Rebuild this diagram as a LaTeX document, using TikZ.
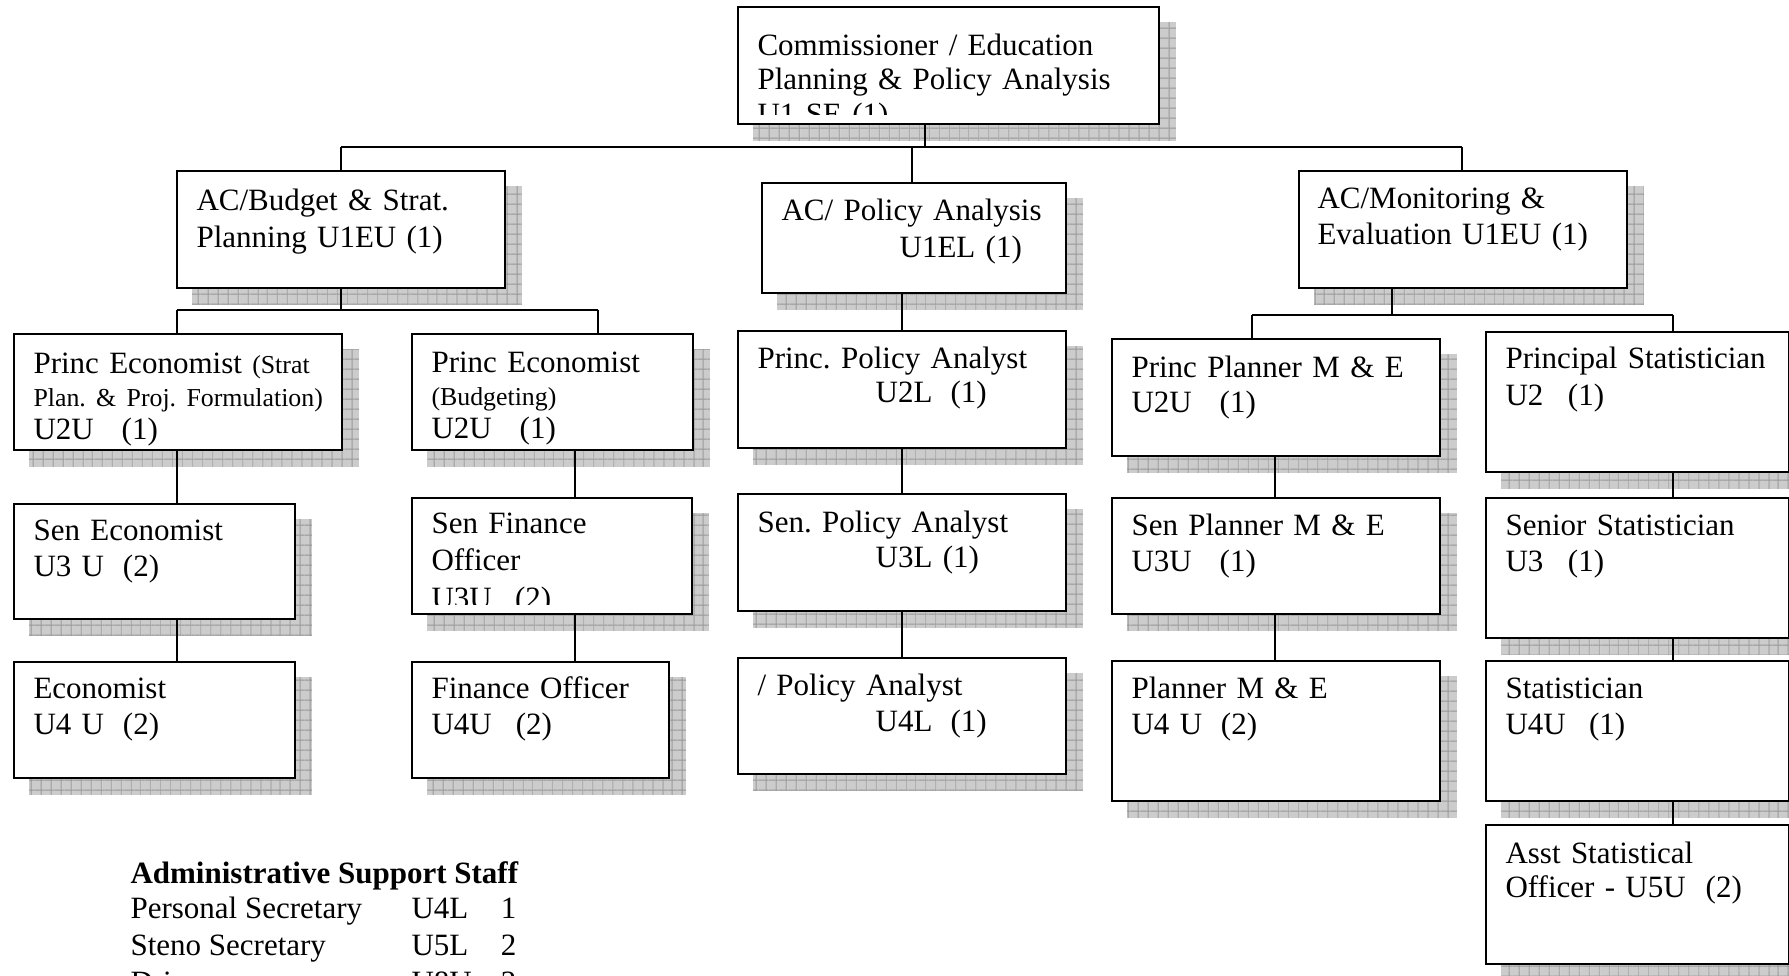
\documentclass[tikz,border=0pt]{standalone}
\usepackage{fontspec}
\setmainfont{Liberation Serif}
\usetikzlibrary{patterns.meta}
\frenchspacing
\definecolor{shbg}{RGB}{204,204,204}
\definecolor{shline}{RGB}{150,150,150}
\pgfdeclarelayer{shadow}
\pgfdeclarelayer{conn}
\pgfsetlayers{shadow,conn,main}
\newcommand\gp[1]{\hspace{#1pt}}
\newcommand\ind{\hspace*{45.7pt}}
\newcommand\smf{\fontsize{10}{12}\selectfont}
\tikzset{
  orgbox/.style={draw=black, line width=0.75pt, fill=white, anchor=north west, inner sep=0pt},
  boxshadow/.style={fill=shbg,
    postaction={pattern={Lines[angle=0,distance=4pt,line width=0.35pt]}, pattern color=shline},
    postaction={pattern={Lines[angle=90,distance=4pt,line width=0.35pt]}, pattern color=shline}},
  boxtxt/.style={anchor=base west, inner sep=0pt, align=left, text width=9cm,
    execute at begin node=\frenchspacing},
  conn/.style={draw=black, line width=0.55pt},
  plain/.style={anchor=base west, inner sep=0pt, font=\fontsize{12}{14}\selectfont},
}
\newcommand\orgbox[5]{%
  \pgfmathsetmacro\obw{(#4-#2)*0.387}%
  \pgfmathsetmacro\obh{(#5-#3)*0.387}%
  \node[orgbox, minimum width=\obw pt, minimum height=\obh pt] (#1) at (#2,#3) {};%
  \begin{pgfonlayer}{shadow}%
    \path[boxshadow] ([shift={(16,16)}]#1.north west) rectangle ([shift={(16,16)}]#1.south east);%
  \end{pgfonlayer}}
\newcommand\boxtext[5]{%
  \node[boxtxt, font=\fontsize{12}{#4}\selectfont] (#1) at (#2,#3) {#5};}

\begin{document}
\begin{tikzpicture}[x=0.387pt, y=-0.387pt]
\useasboundingbox (0,0) rectangle (1789,975);
\begin{pgfonlayer}{shadow}
  \fill[white] (0,0) rectangle (1789,975);
\end{pgfonlayer}

% ---- boxes ----
\orgbox{A}{737}{6}{1158}{123}
\orgbox{B1}{176}{170}{504}{287}
\orgbox{B2}{761}{182}{1065}{292}
\orgbox{B3}{1298}{170}{1626}{287}
\orgbox{C1}{13}{333}{341}{449}
\orgbox{C2}{411}{333}{692}{449}
\orgbox{D1}{13}{503}{294}{618}
\orgbox{D2}{411}{497}{691}{613}
\orgbox{E1}{13}{661}{294}{777}
\orgbox{E2}{411}{661}{668}{777}
\orgbox{F1}{737}{330}{1065}{447}
\orgbox{F2}{737}{493}{1065}{610}
\orgbox{F3}{737}{657}{1065}{773}
\orgbox{G1}{1111}{338}{1439}{455}
\orgbox{G2}{1111}{497}{1439}{613}
\orgbox{G3}{1111}{660}{1439}{800}
\orgbox{H1}{1485}{331}{1788}{471}
\orgbox{H2}{1485}{497}{1788}{637}
\orgbox{H3}{1485}{660}{1788}{800}
\orgbox{H4}{1485}{824}{1788}{963}

% ---- texts ----
\begin{scope}
  \clip (A.north west) rectangle ([shift={(0,-10)}]A.south east);
  \boxtext{tA}{757}{55}{13.5pt}{Commissioner / Education\\Planning \& Policy Analysis\\U1 SE (1)}
\end{scope}
\boxtext{tB1}{196}{210}{14.7pt}{AC/Budget \& Strat.\\Planning U1EU (1)}
\boxtext{tB2}{781}{220}{14.7pt}{AC/ Policy Analysis\\\ind U1EL (1)}
\boxtext{tB3}{1317}{208}{14.3pt}{AC/Monitoring \&\\Evaluation U1EU (1)}
\boxtext{tC1}{33}{373}{12.8pt}{Princ Economist {\smf (Strat}\\{\smf Plan. \& Proj. Formulation)}\\U2U\gp{10.8}(1)}
\boxtext{tC2}{431}{372}{12.8pt}{Princ Economist\\{\smf (Budgeting)}\\U2U\gp{10.8}(1)}
\boxtext{tD1}{33}{540}{14.3pt}{Sen Economist\\U3 U\gp{7.3}(2)}
\begin{scope}
  \clip (D2.north west) rectangle ([shift={(0,-10)}]D2.south east);
  \boxtext{tD2}{431}{533}{14.7pt}{Sen Finance\\Officer\\U3U\gp{9}(2)}
\end{scope}
\boxtext{tE1}{33}{698}{14.3pt}{Economist\\U4 U\gp{7.3}(2)}
\boxtext{tE2}{431}{698}{14.3pt}{Finance Officer\\U4U\gp{9.3}(2)}
\boxtext{tF1}{757}{368}{13.5pt}{Princ. Policy Analyst\\\ind U2L\gp{7}(1)}
\boxtext{tF2}{757}{532}{13.9pt}{Sen. Policy Analyst\\\ind U3L (1)}
\boxtext{tF3}{757}{695}{14.3pt}{/ Policy Analyst\\\ind U4L\gp{7}(1)}
\boxtext{tG1}{1131}{377}{13.9pt}{Princ Planner M \& E\\U2U\gp{10.8}(1)}
\boxtext{tG2}{1131}{535}{14.3pt}{Sen Planner M \& E\\U3U\gp{10.8}(1)}
\boxtext{tG3}{1131}{698}{14.3pt}{Planner M \& E\\U4 U\gp{7.3}(2)}
\boxtext{tH1}{1505}{368}{14.7pt}{Principal Statistician\\U2\gp{9.5}(1)}
\boxtext{tH2}{1505}{535}{14.3pt}{Senior Statistician\\U3\gp{9.5}(1)}
\boxtext{tH3}{1505}{698}{14.3pt}{Statistician\\U4U\gp{9}(1)}
\boxtext{tH4}{1505}{863}{13.5pt}{Asst Statistical\\Officer - U5U\gp{7.7}(2)}

% ---- admin support staff ----
\node[plain, font=\fontsize{12}{14}\selectfont\bfseries] (adm) at (130,883) {Administrative Support Staff};
\node[plain] (r1a) at (130,918) {Personal Secretary};
\node[plain] (r1b) at (411,918) {U4L};
\node[plain, anchor=base east] (r1c) at (517,918) {1};
\node[plain] (r2a) at (130,955) {Steno Secretary};
\node[plain] (r2b) at (411,955) {U5L};
\node[plain, anchor=base east] (r2c) at (517,955) {2};
\node[plain] (r3a) at (130,992) {Drivers};
\node[plain] (r3b) at (411,992) {U8U};
\node[plain, anchor=base east] (r3c) at (517,992) {2};

% ---- connectors ----
\begin{pgfonlayer}{conn}
  \coordinate (jA) at (925,147);
  \coordinate (busL) at (341,147);
  \coordinate (busR) at (1462,147);
  \coordinate (jB2) at (912,147);
  \draw[conn] (A.south -| jA) -- (jA);
  \draw[conn] (busL) -- (busR);
  \draw[conn] (busL) -- (B1.north -| busL);
  \draw[conn] (jB2) -- (B2.north -| jB2);
  \draw[conn] (busR) -- (B3.north -| busR);
  % left branch
  \coordinate (j1) at (341,310);
  \coordinate (j1L) at (177,310);
  \coordinate (j1R) at (598,310);
  \draw[conn] (B1.south -| j1) -- (j1);
  \draw[conn] (j1L) -- (j1R);
  \draw[conn] (j1L) -- (C1.north -| j1L);
  \draw[conn] (j1R) -- (C2.north -| j1R);
  \coordinate (xC1) at (177,0);
  \draw[conn] (C1.south -| xC1) -- (D1.north -| xC1);
  \draw[conn] (D1.south -| xC1) -- (E1.north -| xC1);
  \coordinate (xC2) at (575,0);
  \draw[conn] (C2.south -| xC2) -- (D2.north -| xC2);
  \draw[conn] (D2.south -| xC2) -- (E2.north -| xC2);
  % middle branch
  \coordinate (xF) at (902,0);
  \draw[conn] (B2.south -| xF) -- (F1.north -| xF);
  \draw[conn] (F1.south -| xF) -- (F2.north -| xF);
  \draw[conn] (F2.south -| xF) -- (F3.north -| xF);
  % right branch
  \coordinate (j3) at (1392,315);
  \coordinate (j3L) at (1252,315);
  \coordinate (j3R) at (1673,315);
  \draw[conn] (B3.south -| j3) -- (j3);
  \draw[conn] (j3L) -- (j3R);
  \draw[conn] (j3L) -- (G1.north -| j3L);
  \draw[conn] (j3R) -- (H1.north -| j3R);
  \coordinate (xG) at (1275,0);
  \draw[conn] (G1.south -| xG) -- (G2.north -| xG);
  \draw[conn] (G2.south -| xG) -- (G3.north -| xG);
  \coordinate (xH) at (1673,0);
  \draw[conn] (H1.south -| xH) -- (H2.north -| xH);
  \draw[conn] (H2.south -| xH) -- (H3.north -| xH);
  \draw[conn] (H3.south -| xH) -- (H4.north -| xH);
\end{pgfonlayer}
\end{tikzpicture}
\end{document}
